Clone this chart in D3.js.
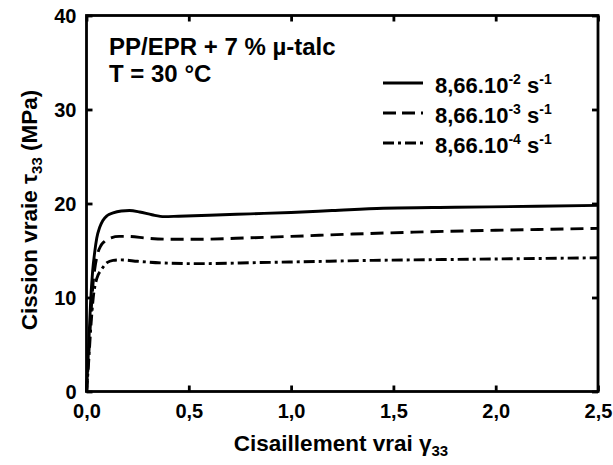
<!DOCTYPE html>
<html>
<head>
<meta charset="utf-8">
<script src="https://cdn.jsdelivr.net/npm/d3@7"></script>
<style>
  body { margin: 0; background: #fff; }
  svg { display: block; font-family: "Liberation Sans", Arial, sans-serif; font-weight: bold; }
</style>
</head>
<body>
<svg id="chart" width="613" height="465"></svg>
<script>
// ---- data ----
const xTicks = [0, 0.5, 1.0, 1.5, 2.0, 2.5];
const yTicks = [0, 10, 20, 30, 40];
const xTickLabels = ["0,0", "0,5", "1,0", "1,5", "2,0", "2,5"];
const yTickLabels = ["0", "10", "20", "30", "40"];

const seriesNames = ["8,66.10", "8,66.10", "8,66.10"];
const seriesExp = ["-2", "-3", "-4"];

// strain (gamma33) and stress (tau33, MPa)
const strainA = [0, 0.01, 0.02, 0.03, 0.04, 0.05, 0.065, 0.08, 0.1, 0.13, 0.17, 0.21, 0.26, 0.32, 0.38, 0.45, 0.6, 0.8, 1.0, 1.2, 1.45, 1.8, 2.2, 2.5];
const stressA = [0, 4.5, 9.5, 12.8, 14.8, 16.3, 17.5, 18.2, 18.7, 19.0, 19.2, 19.25, 19.1, 18.8, 18.6, 18.65, 18.75, 18.9, 19.05, 19.25, 19.5, 19.6, 19.7, 19.8];

const strainB = [0, 0.01, 0.02, 0.03, 0.04, 0.055, 0.07, 0.09, 0.12, 0.16, 0.2, 0.3, 0.4, 0.55, 0.8, 1.0, 1.3, 1.6, 2.0, 2.5];
const stressB = [0, 3.5, 7.5, 11, 13, 14.7, 15.5, 16.0, 16.35, 16.5, 16.5, 16.3, 16.2, 16.2, 16.35, 16.5, 16.75, 16.95, 17.15, 17.35];

const strainC = [0, 0.01, 0.02, 0.033, 0.05, 0.074, 0.1, 0.13, 0.17, 0.25, 0.4, 0.55, 0.85, 1.05, 1.4, 1.8, 2.2, 2.5];
const stressC = [0, 3, 6.5, 10, 12, 13.0, 13.7, 13.95, 14.0, 13.85, 13.65, 13.6, 13.72, 13.8, 13.95, 14.05, 14.15, 14.23];

const dashes = [null, "13,7", "11,4,3,4"];
const legendDashes = [null, "13,6", "11,4,3,4"];

// ---- layout ----
const svg = d3.select("#chart");
const L = 86.5, R = 598, T = 15.5, B = 391.5;
const x = d3.scaleLinear().domain([0, 2.5]).range([L, R]);
const y = d3.scaleLinear().domain([0, 40]).range([B, T]);

const series = [
  strainA.map((s, i) => [s, stressA[i]]),
  strainB.map((s, i) => [s, stressB[i]]),
  strainC.map((s, i) => [s, stressC[i]])
];

const line = d3.line().x(d => x(d[0])).y(d => y(d[1])).curve(d3.curveMonotoneX);

const g = svg.append("g");
series.forEach((data, i) => {
  g.append("path")
    .attr("d", line(data))
    .attr("fill", "none")
    .attr("stroke", "#000")
    .attr("stroke-width", 2.9)
    .attr("stroke-dasharray", dashes[i]);
});

// frame
svg.append("rect").attr("x", L).attr("y", T).attr("width", R - L).attr("height", B - T)
  .attr("fill", "none").attr("stroke", "#000").attr("stroke-width", 2.8);

// axes with inward ticks
const tickLen = 6;
const xAxisB = d3.axisBottom(x).tickValues(xTicks).tickSize(-tickLen).tickPadding(12)
  .tickFormat((d, i) => xTickLabels[i]);
const gx = svg.append("g").attr("transform", `translate(0,${B})`).call(xAxisB);
const xAxisT = d3.axisTop(x).tickValues(xTicks).tickSize(-tickLen).tickFormat("");
const gxt = svg.append("g").attr("transform", `translate(0,${T})`).call(xAxisT);
const yAxisL = d3.axisLeft(y).tickValues(yTicks).tickSize(-tickLen).tickPadding(10)
  .tickFormat((d, i) => yTickLabels[i]);
const gy = svg.append("g").attr("transform", `translate(${L},0)`).call(yAxisL);
const yAxisR = d3.axisRight(y).tickValues(yTicks).tickSize(-tickLen).tickFormat("");
const gyr = svg.append("g").attr("transform", `translate(${R},0)`).call(yAxisR);

[gx, gxt, gy, gyr].forEach(a => {
  a.select(".domain").remove();
  a.selectAll(".tick line").attr("stroke", "#000").attr("stroke-width", 2.8);
  a.selectAll("text").attr("font-family", "Liberation Sans, Arial, sans-serif")
    .attr("font-weight", "bold").attr("font-size", 20).attr("fill", "#000");
});
gx.selectAll("text").attr("dy", "0.71em");
gy.selectAll("text").attr("dy", "0.36em");

// axis titles
const xt = svg.append("text").attr("x", 341).attr("y", 451).attr("text-anchor", "middle")
  .attr("font-size", 22.5);
xt.append("tspan").text("Cisaillement vrai γ");
xt.append("tspan").attr("font-size", 15).attr("dy", 5).text("33");

const yt = svg.append("text").attr("transform", "translate(37,210) rotate(-90)")
  .attr("text-anchor", "middle").attr("font-size", 22.5);
yt.append("tspan").text("Cission vraie τ");
yt.append("tspan").attr("font-size", 15).attr("dy", 5).text("33");
yt.append("tspan").attr("dy", -5).text(" (MPa)");

// annotation
svg.append("text").attr("x", 109).attr("y", 55).attr("font-size", 24).text("PP/EPR + 7 % µ-talc");
svg.append("text").attr("x", 109).attr("y", 82).attr("font-size", 24).text("T = 30 °C");

// legend
const legY = [83, 113, 143];
seriesNames.forEach((name, i) => {
  svg.append("line").attr("x1", 383).attr("x2", 423).attr("y1", legY[i]).attr("y2", legY[i])
    .attr("stroke", "#000").attr("stroke-width", 2.9).attr("stroke-dasharray", legendDashes[i]);
  const t = svg.append("text").attr("x", 435).attr("y", legY[i] + 10).attr("font-size", 22);
  t.append("tspan").text(name);
  t.append("tspan").attr("font-size", 14).attr("dy", -9).text(seriesExp[i]);
  t.append("tspan").attr("dy", 9).text(" s");
  t.append("tspan").attr("font-size", 14).attr("dy", -9).text("-1");
});
</script>
</body>
</html>
